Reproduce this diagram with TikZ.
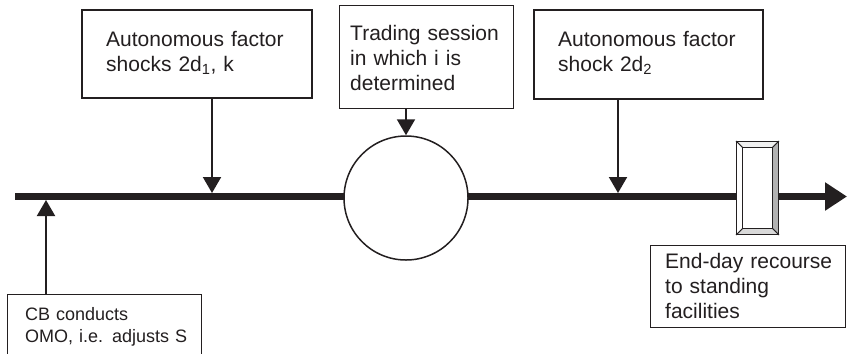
\documentclass[tikz,border=0pt]{standalone}
\usepackage{fontspec}
\setmainfont{Liberation Sans}
\usetikzlibrary{arrows.meta,calc}
\definecolor{ink}{HTML}{231F20}
\begin{document}
\begin{tikzpicture}[x=1bp,y=-1bp,
  box/.style={draw=ink,line width=1.2bp,inner sep=0,fill=white,anchor=north west},
  boxthick/.style={box,line width=2bp},
  txt/.style={anchor=base west,inner sep=0,align=left,text width=220bp,text=ink,
    font=\fontsize{21bp}{25bp}\selectfont},
  txtsmall/.style={txt,font=\fontsize{18bp}{22bp}\selectfont},
  arr/.style={draw=ink,line width=2bp,-{Triangle[length=16bp,width=18bp]}},
  mainline/.style={draw=ink,line width=7bp,-{Triangle[length=22bp,width=27bp]}},
]
\useasboundingbox (0,0) rectangle (847,353);
\clip (0,0) rectangle (847,353);

% main time line
\coordinate (ls) at (15,196.5);
\coordinate (le) at (847,196.5);
\draw[mainline] (ls) -- (le);

% boxes
\node[boxthick,minimum width=230bp,minimum height=88bp] (b1) at (81,9) {};
\node[box,minimum width=174bp,minimum height=103bp] (b2) at (339,5) {};
\node[boxthick,minimum width=229bp,minimum height=89bp] (b3) at (533,9) {};
\node[box,minimum width=194bp,minimum height=70bp] (cb) at (7,294) {};
\node[box,minimum width=195bp,minimum height=82bp] (ed) at (650,245) {};

% texts
\node[txt] (t1) at (106,46) {Autonomous factor\\shocks 2d\textsubscript{1}, k};
\node[txt] (t2) at (350,40) {Trading session\\in which i is\\determined};
\node[txt] (t3) at (558,46) {Autonomous factor\\shock 2d\textsubscript{2}};
\node[txtsmall] (t4) at (25,320) {CB conducts\\OMO, i.e. adjusts S};
\node[txt] (t5) at (665,268) {End-day recourse\\to standing\\facilities};

% trading session circle
\node[circle,draw=ink,fill=white,line width=1.5bp,minimum size=124bp,inner sep=0] (c) at (406,198) {};

% standing facilities bar
\node[draw=ink,fill=white,line width=1bp,minimum width=41bp,minimum height=92bp,inner sep=0] (bar) at (757.5,188) {};
\coordinate (iNW) at ($(bar.north west)+(6,6)$);
\coordinate (iNE) at ($(bar.north east)+(-6,6)$);
\coordinate (iSE) at ($(bar.south east)+(-6,-6)$);
\coordinate (iSW) at ($(bar.south west)+(6,-6)$);
\filldraw[draw=ink,line width=0.8bp,fill=gray!12] (bar.north west) -- (bar.north east) -- (iNE) -- (iNW) -- cycle;
\filldraw[draw=ink,line width=0.8bp,fill=gray!60] (bar.north east) -- (bar.south east) -- (iSE) -- (iNE) -- cycle;
\filldraw[draw=ink,line width=0.8bp,fill=gray!30] (bar.south east) -- (bar.south west) -- (iSW) -- (iSE) -- cycle;
\filldraw[draw=ink,line width=0.8bp,fill=white] (bar.south west) -- (bar.north west) -- (iNW) -- (iSW) -- cycle;

% arrows
\coordinate (p1) at (212,193);
\coordinate (p3) at (618,193);
\coordinate (p4) at (46,200);
\draw[arr] (b1.south -| p1) -- (p1);
\draw[arr] (b2.south -| c.north) -- (c.north);
\draw[arr] (b3.south -| p3) -- (p3);
\draw[arr] (cb.north -| p4) -- (p4);
\end{tikzpicture}
\end{document}
